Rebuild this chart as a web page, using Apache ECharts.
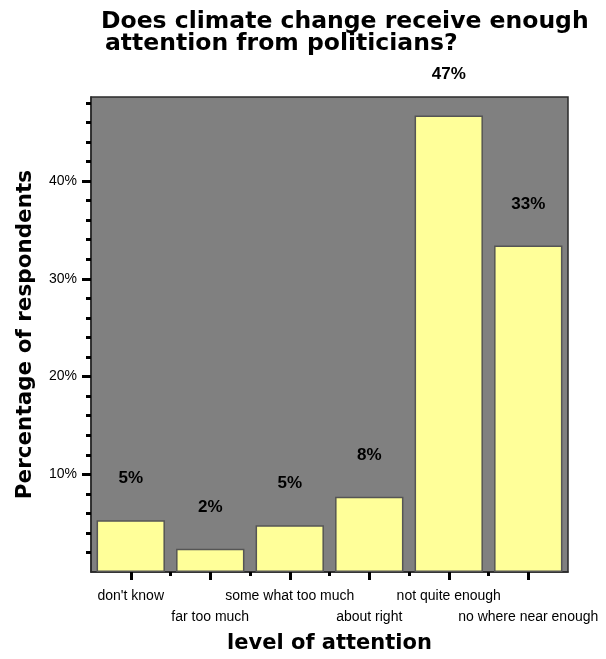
<!DOCTYPE html>
<html>
<head>
<meta charset="utf-8">
<script src="https://cdn.jsdelivr.net/npm/echarts@6/dist/echarts.min.js"></script>
<style>
  html, body { margin: 0; padding: 0; background: #fff; }
  #chart { width: 606px; height: 659px; }
</style>
</head>
<body>
<div id="chart"></div>
<script>
// Survey answers: share of respondents per level of attention
const categories = ['don\'t know', 'far too much', 'some what too much', 'about right', 'not quite enough', 'no where near enough'];
const percentages = [5.3, 2.4, 4.8, 7.7, 46.7, 33.4];
const yMajorTicks = [10, 20, 30, 40];
const yMinorTicks = [2, 4, 6, 8, 12, 14, 16, 18, 22, 24, 26, 28, 32, 34, 36, 38, 42, 44, 46, 48];
const xBoundaryTicks = [1, 2, 3, 4, 5];
const titleLines = ['Does climate change receive enough', 'attention from politicians?'];

const chart = echarts.init(document.getElementById('chart'));
const sans = '"Liberation Sans", Arial, sans-serif';
const wide = '"DejaVu Sans", sans-serif';
const titleStyle = { fontFamily: wide, fontWeight: 'bold', fontSize: 23.5, color: '#000' };

chart.setOption({
  animation: false,
  title: [
    { text: titleLines[0], left: 101, top: 10, padding: 0, textStyle: titleStyle },
    { text: titleLines[1], left: 105, top: 32, padding: 0, textStyle: titleStyle }
  ],
  grid: {
    left: 91, right: 38, top: 97, bottom: 85,
    show: true, backgroundColor: '#808080', borderColor: '#2a2a2a', borderWidth: 1.5
  },
  xAxis: [
    {
      type: 'category',
      data: categories,
      position: 'bottom',
      name: 'level of attention',
      nameLocation: 'middle',
      nameGap: 59,
      nameTextStyle: { fontFamily: wide, fontWeight: 'bold', fontSize: 21, color: '#000' },
      axisLine: { show: true, lineStyle: { color: '#2a2a2a', width: 1.5 } },
      axisTick: { show: true, alignWithLabel: true, length: 8, lineStyle: { color: '#000', width: 3 } },
      axisLabel: {
        interval: 0, margin: 14, fontFamily: sans, fontSize: 14, color: '#000', lineHeight: 21,
        formatter: (v, i) => (i % 2 === 1 ? '\n' + v : v)
      },
      splitLine: { show: false }
    },
    {
      type: 'value',
      position: 'bottom',
      min: 0,
      max: categories.length,
      axisLine: { show: false },
      axisTick: { show: true, customValues: xBoundaryTicks, length: 4, lineStyle: { color: '#000', width: 3 } },
      axisLabel: { show: false },
      splitLine: { show: false }
    }
  ],
  yAxis: [
    {
      type: 'value',
      min: 0,
      max: 48.6,
      name: 'Percentage of respondents',
      nameLocation: 'middle',
      nameGap: 55,
      nameTextStyle: { fontFamily: wide, fontWeight: 'bold', fontSize: 21.5, color: '#000' },
      axisLine: { show: true, lineStyle: { color: '#2a2a2a', width: 1.5 } },
      axisTick: { show: true, customValues: yMajorTicks, length: 9, lineStyle: { color: '#000', width: 3 } },
      axisLabel: { customValues: yMajorTicks, margin: 14, fontFamily: sans, fontSize: 14, color: '#000', formatter: v => v + '%' },
      splitLine: { show: false }
    },
    {
      type: 'value',
      position: 'left',
      min: 0,
      max: 48.6,
      axisLine: { show: false },
      axisTick: { show: true, customValues: yMinorTicks, length: 5, lineStyle: { color: '#000', width: 3 } },
      axisLabel: { show: false },
      splitLine: { show: false }
    }
  ],
  series: [{
    type: 'bar',
    data: percentages,
    xAxisIndex: 0,
    yAxisIndex: 0,
    barCategoryGap: '14%',
    itemStyle: { color: '#FFFF99', borderColor: '#555', borderWidth: 1.5 },
    label: {
      show: true, position: 'top', distance: 33,
      fontFamily: sans, fontWeight: 'bold', fontSize: 17, color: '#000',
      formatter: p => Math.round(p.value) + '%'
    }
  }]
});
</script>
</body>
</html>
